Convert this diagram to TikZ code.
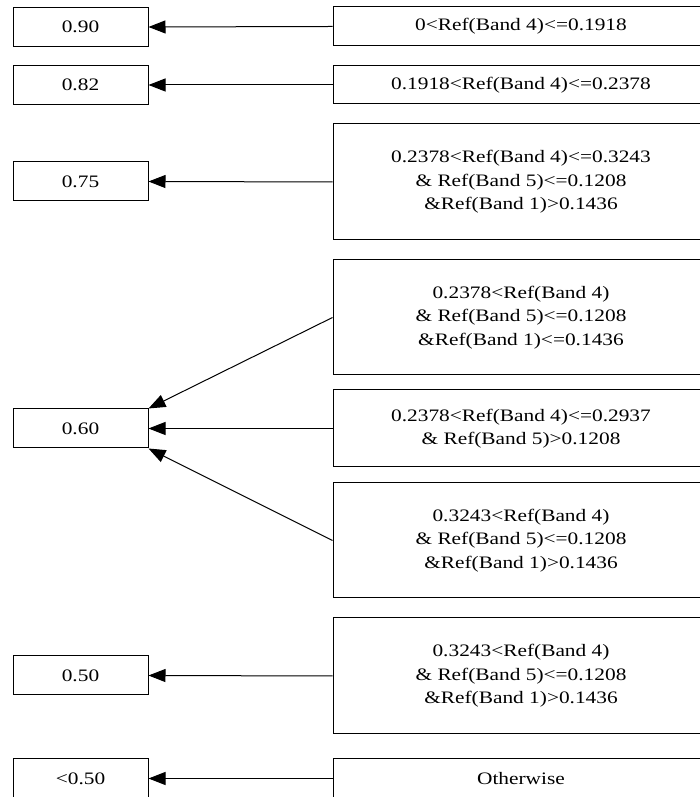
\documentclass[tikz,border=0pt]{standalone}
\usepackage{fontspec}
\setmainfont{Liberation Serif}[FakeStretch=1.22]
\usetikzlibrary{arrows.meta}

\begin{document}
\begin{tikzpicture}[x=1pt,y=1pt,line width=1pt,
  valbox/.style={draw,minimum width=135pt,minimum height=39pt,inner sep=0pt},
  condbox/.style={draw,minimum width=376pt,inner sep=0pt,align=center},
  arr/.style={-{Triangle[length=17pt,width=13pt]}}]
\path[use as bounding box] (0,0) rectangle (700,797);
\fontsize{17.5}{23.5}\selectfont
% values
\node[valbox] (a90) at (80.5,770) {0.90};
\node[valbox] (a82) at (80.5,712) {0.82};
\node[valbox] (a75) at (80.5,615.5) {0.75};
\node[valbox] (a60) at (80.5,368.5) {0.60};
\node[valbox] (a50) at (80.5,121.5) {0.50};
\node[valbox] (a00) at (80.5,18.5) {<0.50};
% conditions
\node[condbox,minimum height=39pt] (r1) at (521,770.5) {0<Ref(Band 4)<=0.1918};
\node[condbox,minimum height=38pt] (r2) at (521,712) {0.1918<Ref(Band 4)<=0.2378};
\node[condbox,minimum height=116pt] (r3) at (521,615) {0.2378<Ref(Band 4)<=0.3243\\ \& Ref(Band 5)<=0.1208\\ \&Ref(Band 1)>0.1436};
\node[condbox,minimum height=115pt] (r4) at (521,479.5) {0.2378<Ref(Band 4)\\ \& Ref(Band 5)<=0.1208\\ \&Ref(Band 1)<=0.1436};
\node[condbox,minimum height=77pt] (r5) at (521,368.5) {0.2378<Ref(Band 4)<=0.2937\\ \& Ref(Band 5)>0.1208};
\node[condbox,minimum height=115pt] (r6) at (521,256.5) {0.3243<Ref(Band 4)\\ \& Ref(Band 5)<=0.1208\\ \&Ref(Band 1)>0.1436};
\node[condbox,minimum height=116pt] (r7) at (521,121) {0.3243<Ref(Band 4)\\ \& Ref(Band 5)<=0.1208\\ \&Ref(Band 1)>0.1436};
\node[condbox,minimum height=39pt] (r8) at (521,18.5) {Otherwise};
% arrows
\draw[arr] (r1.west) -- (a90.east);
\draw[arr] (r2.west) -- (a82.east);
\draw[arr] (r3.west) -- (a75.east);
\draw[arr] (r4.west) -- (a60.north east);
\draw[arr] (r5.west) -- (a60.east);
\draw[arr] (r6.west) -- (a60.south east);
\draw[arr] (r7.west) -- (a50.east);
\draw[arr] (r8.west) -- (a00.east);
\end{tikzpicture}
\end{document}
